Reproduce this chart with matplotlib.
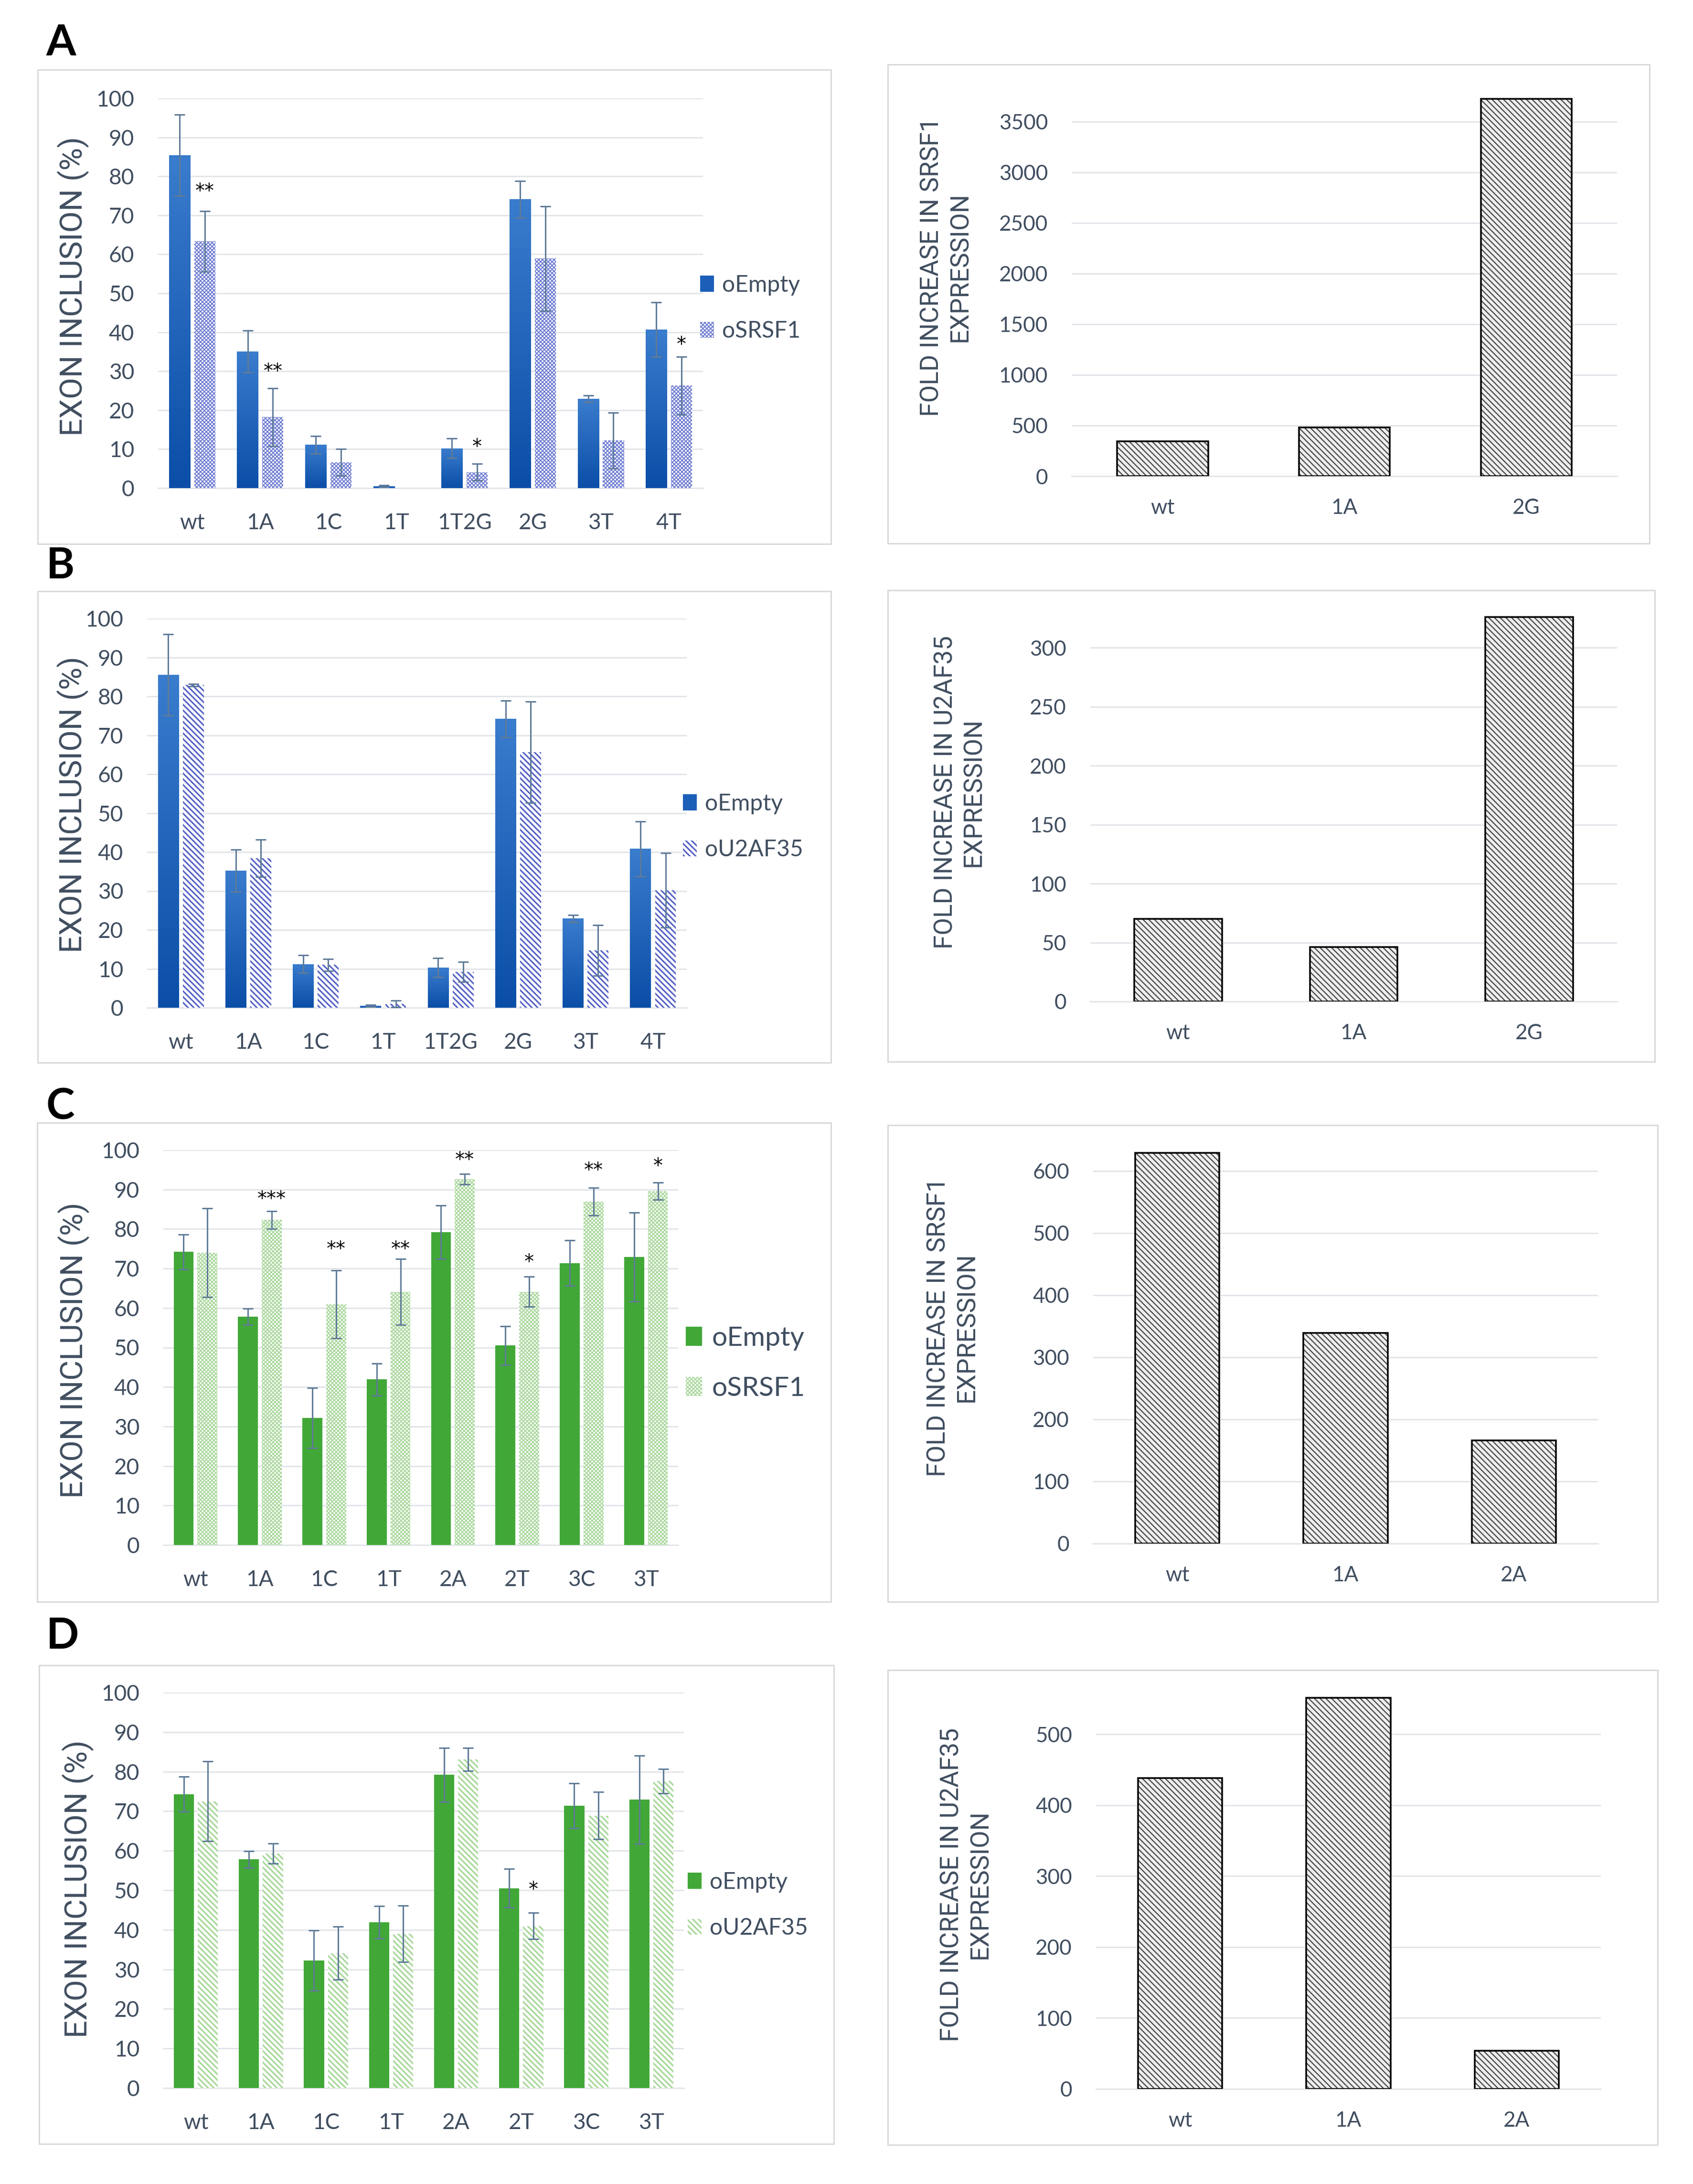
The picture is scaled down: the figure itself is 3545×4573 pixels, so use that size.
import numpy as np
import matplotlib
matplotlib.use("Agg")
import matplotlib.pyplot as plt
from matplotlib.patches import Rectangle, Patch
from matplotlib.colors import LinearSegmentedColormap

plt.rcParams["font.family"] = ["Lato", "DejaVu Sans"]

W, H = 3545, 4573
DPI = 72

# ---------------- data ----------------
mut_ab = ["wt", "1A", "1C", "1T", "1T2G", "2G", "3T", "4T"]
mut_cd = ["wt", "1A", "1C", "1T", "2A", "2T", "3C", "3T"]

# panel A: oEmpty vs oSRSF1
a_empty = [85.4, 35.1, 11.1, 0.5, 10.2, 74.1, 22.9, 40.7]
a_empty_err = [10.4, 5.4, 2.3, 0.2, 2.5, 4.7, 0.9, 7.0]
a_srsf1 = [63.3, 18.2, 6.6, 0.0, 4.1, 58.9, 12.2, 26.3]
a_srsf1_err = [7.8, 7.4, 3.4, 0.0, 2.1, 13.4, 7.2, 7.4]
a_stars = ["**", "**", "", "", "*", "", "", "*"]
a_star_y = [77.4, 31.3, 0, 0, 11.9, 0, 0, 38.1]

# panel B: oEmpty vs oU2AF35
b_empty = [85.5, 35.2, 11.2, 0.5, 10.3, 74.2, 22.9, 40.8]
b_empty_err = [10.4, 5.4, 2.3, 0.2, 2.5, 4.7, 0.9, 7.0]
b_u2af35 = [82.9, 38.4, 11.0, 1.0, 9.2, 65.6, 14.7, 30.2]
b_u2af35_err = [0.3, 4.8, 1.5, 0.9, 2.6, 13.0, 6.5, 9.6]

# panel C: oEmpty vs oSRSF1
c_empty = [74.2, 57.8, 32.2, 41.9, 79.2, 50.5, 71.4, 72.9]
c_empty_err = [4.4, 2.1, 7.6, 4.1, 6.8, 4.9, 5.7, 11.2]
c_srsf1 = [74.0, 82.3, 60.9, 64.1, 92.6, 64.1, 86.9, 89.6]
c_srsf1_err = [11.2, 2.2, 8.6, 8.3, 1.3, 3.8, 3.5, 2.2]
c_stars = ["", "***", "**", "**", "**", "*", "**", "*"]
c_star_y = [0, 88.9, 76.2, 76.2, 98.8, 72.9, 96.1, 97.2]

# panel D: oEmpty vs oU2AF35
d_empty = [74.3, 57.8, 32.2, 41.9, 79.2, 50.5, 71.4, 72.9]
d_empty_err = [4.4, 2.1, 7.6, 4.1, 6.8, 4.9, 5.7, 11.2]
d_u2af35 = [72.5, 59.3, 34.1, 39.0, 83.1, 41.0, 68.9, 77.6]
d_u2af35_err = [10.1, 2.5, 6.7, 7.1, 2.9, 3.3, 6.0, 3.1]
d_stars = ["", "", "", "", "", "*", "", ""]
d_star_y = [0, 0, 0, 0, 0, 51.5, 0, 0]

# right panels: fold increase in expression
ra_labels = ["wt", "1A", "2G"]
ra_vals = [343, 482, 3726]
rb_labels = ["wt", "1A", "2G"]
rb_vals = [70, 46, 326]
rc_labels = ["wt", "1A", "2A"]
rc_vals = [629, 339, 166]
rd_labels = ["wt", "1A", "2A"]
rd_vals = [438, 551, 54]

# ---------------- style ----------------
TXT = "#404e60"
GRID = "#e2e5e9"
FRAME = "#d9d9d9"
BLUE_TOP = "#3a7ccd"
BLUE_BOT = "#0a4ea8"
BLUE_CHK = "#6a78d0"
BLUE_DIAG = "#5562c4"
GREEN = "#41a837"
GREEN_LIGHT = "#a6d698"
ERR = "#5f7b98"
RGRAY = "#4a4a4a"

fig = plt.figure(figsize=(W / DPI, H / DPI), dpi=DPI)
fig.patch.set_facecolor("white")


def px_axes(x0, y0, x1, y1):
    return fig.add_axes([x0 / W, 1 - y1 / H, (x1 - x0) / W, (y1 - y0) / H])


def frame(x0, y0, x1, y1):
    fig.add_artist(Rectangle((x0 / W, 1 - y1 / H), (x1 - x0) / W, (y1 - y0) / H,
                             transform=fig.transFigure, fill=False, ec=FRAME, lw=3))


def style_axes(ax, n, ymax, yticks, fs, ypad, xpad):
    ax.set_xlim(-0.5, n - 0.5)
    ax.set_ylim(0, ymax)
    ax.set_xticks(range(n))
    ax.set_yticks(yticks)
    for s in ax.spines.values():
        s.set_visible(False)
    ax.grid(axis="y", color=GRID, lw=3)
    ax.axhline(0, color=GRID, lw=3, clip_on=False, zorder=0.5)
    ax.set_axisbelow(True)
    ax.tick_params(axis="both", length=0, labelsize=fs, labelcolor=TXT)
    ax.tick_params(axis="y", pad=ypad)
    ax.tick_params(axis="x", pad=xpad)
    ax.patch.set_alpha(0)


def gradient_fill(ax, bars, top, bottom):
    cmap = LinearSegmentedColormap.from_list("grad", [bottom, top])
    grad = np.linspace(0, 1, 256).reshape(-1, 1)
    for b in bars:
        x, w, h = b.get_x(), b.get_width(), b.get_height()
        if h <= 0:
            continue
        im = ax.imshow(grad, extent=[x, x + w, 0, h], origin="lower", aspect="auto",
                       cmap=cmap, zorder=2, interpolation="bilinear")
        im.set_clip_path(b)


def hatched_bars(ax, x, vals, width, hatch, color, hlw, face="white"):
    plt.rcParams["hatch.linewidth"] = hlw
    bars = ax.bar(x, vals, width, facecolor=face, edgecolor=color, hatch=hatch,
                  lw=0, zorder=2)
    for b in bars:
        if hasattr(b, "set_hatch_linewidth"):
            b.set_hatch_linewidth(hlw)
    return bars


def errbars(ax, x, v, e):
    v, e = np.asarray(v), np.asarray(e)
    keep = v > 0
    ax.errorbar(x[keep], v[keep], yerr=e[keep], fmt="none", ecolor=ERR,
                elinewidth=3, capsize=11, capthick=3, zorder=4)


def left_panel(box, axbox, cats, v1, e1, v2, e2, solid, style2, legend_pos,
               labels, leg_fs, leg_sp, stars=None, star_y=None):
    frame(*box)
    ax = px_axes(*axbox)
    n = len(cats)
    x = np.arange(n)
    off, w = 0.185, 0.31
    if solid == "blue":
        b1 = ax.bar(x - off, v1, w, color=BLUE_BOT, lw=0, zorder=2)
        gradient_fill(ax, b1, BLUE_TOP, BLUE_BOT)
        h1 = Patch(facecolor="#1c5fb8")
    else:
        ax.bar(x - off, v1, w, color=GREEN, lw=0, zorder=2)
        h1 = Patch(facecolor=GREEN)
    hatch, hcol, hlw = style2
    hatched_bars(ax, x + off, v2, w, hatch, hcol, hlw)
    h2 = Patch(facecolor="white", edgecolor=hcol, hatch=hatch, lw=0)
    errbars(ax, x - off, v1, e1)
    errbars(ax, x + off, v2, e2)
    style_axes(ax, n, 100, range(0, 101, 10), 46, 50, 52)
    ax.set_xticklabels(cats)
    if stars:
        for i, (s, y) in enumerate(zip(stars, star_y)):
            if s:
                ax.annotate(s, (x[i] + off, y), xytext=(0, -23), textcoords="offset points",
                            ha="center", va="baseline", fontsize=40, color="black",
                            family="DejaVu Sans", annotation_clip=False, zorder=5)
    fig.legend([h1, h2], labels, loc="center left",
               bbox_to_anchor=(legend_pos[0] / W, 1 - legend_pos[1] / H),
               frameon=False, fontsize=leg_fs, labelcolor=TXT, handlelength=0.6,
               handleheight=0.7, handletextpad=0.35, labelspacing=leg_sp,
               borderpad=0, borderaxespad=0)
    return ax


def right_panel(box, axbox, cats, vals, ymax, yticks):
    frame(*box)
    ax = px_axes(*axbox)
    n = len(cats)
    x = np.arange(n)
    hatched_bars(ax, x, vals, 0.5, "\\\\", RGRAY, 2.4, face="#eeeeee")
    ax.bar(x, vals, 0.5, fill=False, edgecolor="black", lw=3.5, zorder=3)
    style_axes(ax, n, ymax, yticks, 44, 50, 46)
    ax.set_xticklabels(cats)
    return ax


# ---------------- panels ----------------
left_panel((79, 146, 1740, 1139), (331, 206, 1472, 1022), mut_ab,
           a_empty, a_empty_err, a_srsf1, a_srsf1_err, "blue",
           ("xxx", BLUE_CHK, 1.9), (1466, 645), ["oEmpty", "oSRSF1"], 48, 1.1,
           a_stars, a_star_y)
left_panel((79, 1238, 1740, 2225), (308, 1295, 1438, 2110), mut_ab,
           b_empty, b_empty_err, b_u2af35, b_u2af35_err, "blue",
           ("\\\\", BLUE_DIAG, 3.2), (1430, 1731), ["oEmpty", "oU2AF35"], 48, 1.1)
left_panel((78, 2351, 1740, 3354), (342, 2408, 1420, 3235), mut_cd,
           c_empty, c_empty_err, c_srsf1, c_srsf1_err, "green",
           ("xxx", GREEN_LIGHT, 1.9), (1436, 2855), ["oEmpty", "oSRSF1"], 57, 0.95,
           c_stars, c_star_y)
left_panel((82, 3487, 1746, 4489), (342, 3544, 1432, 4372), mut_cd,
           d_empty, d_empty_err, d_u2af35, d_u2af35_err, "green",
           ("\\\\", GREEN_LIGHT, 3.2), (1440, 3989), ["oEmpty", "oU2AF35"], 48, 1.1,
           d_stars, d_star_y)

right_panel((1859, 135, 3454, 1138), (2244, 191, 3386, 997), ra_labels, ra_vals,
            3800, range(0, 3501, 500))
right_panel((1859, 1236, 3465, 2223), (2283, 1270, 3386, 2097), rb_labels, rb_vals,
            335, range(0, 301, 50))
right_panel((1859, 2356, 3471, 3354), (2289, 2400, 3346, 3232), rc_labels, rc_vals,
            640, range(0, 601, 100))
right_panel((1859, 3497, 3471, 4491), (2295, 3527, 3352, 4374), rd_labels, rd_vals,
            570, range(0, 501, 100))

# axis titles, fitted to the measured length
renderer = fig.canvas.get_renderer()


def ylabel(s, cx, cy, length, fs=44):
    t = fig.text(cx / W, 1 - cy / H, s, rotation=90, ha="center", va="center",
                 multialignment="center", fontsize=fs, color=TXT, family="Roboto",
                 linespacing=1.2)
    bb = t.get_window_extent(renderer)
    t.set_fontsize(fs * length / bb.height)
    return t


ylabel("EXON INCLUSION (%)", 153, 600, 627)
ylabel("EXON INCLUSION (%)", 152, 1685, 620)
ylabel("EXON INCLUSION (%)", 154, 2827, 619)
ylabel("EXON INCLUSION (%)", 163, 3955, 623)
ylabel("FOLD INCREASE IN SRSF1\nEXPRESSION", 1981, 559, 627)
ylabel("FOLD INCREASE IN U2AF35\nEXPRESSION", 2009, 1659, 656)
ylabel("FOLD INCREASE IN SRSF1\nEXPRESSION", 1995, 2779, 627)
ylabel("FOLD INCREASE IN U2AF35\nEXPRESSION", 2023, 3946, 657)

for letter, yb in zip("ABCD", [116, 1211, 2343, 3452]):
    fig.text(97 / W, 1 - yb / H, letter, ha="left", va="baseline", fontsize=90,
             fontweight="bold", color="black")

fig.savefig("out.png", dpi=DPI, facecolor="white")
